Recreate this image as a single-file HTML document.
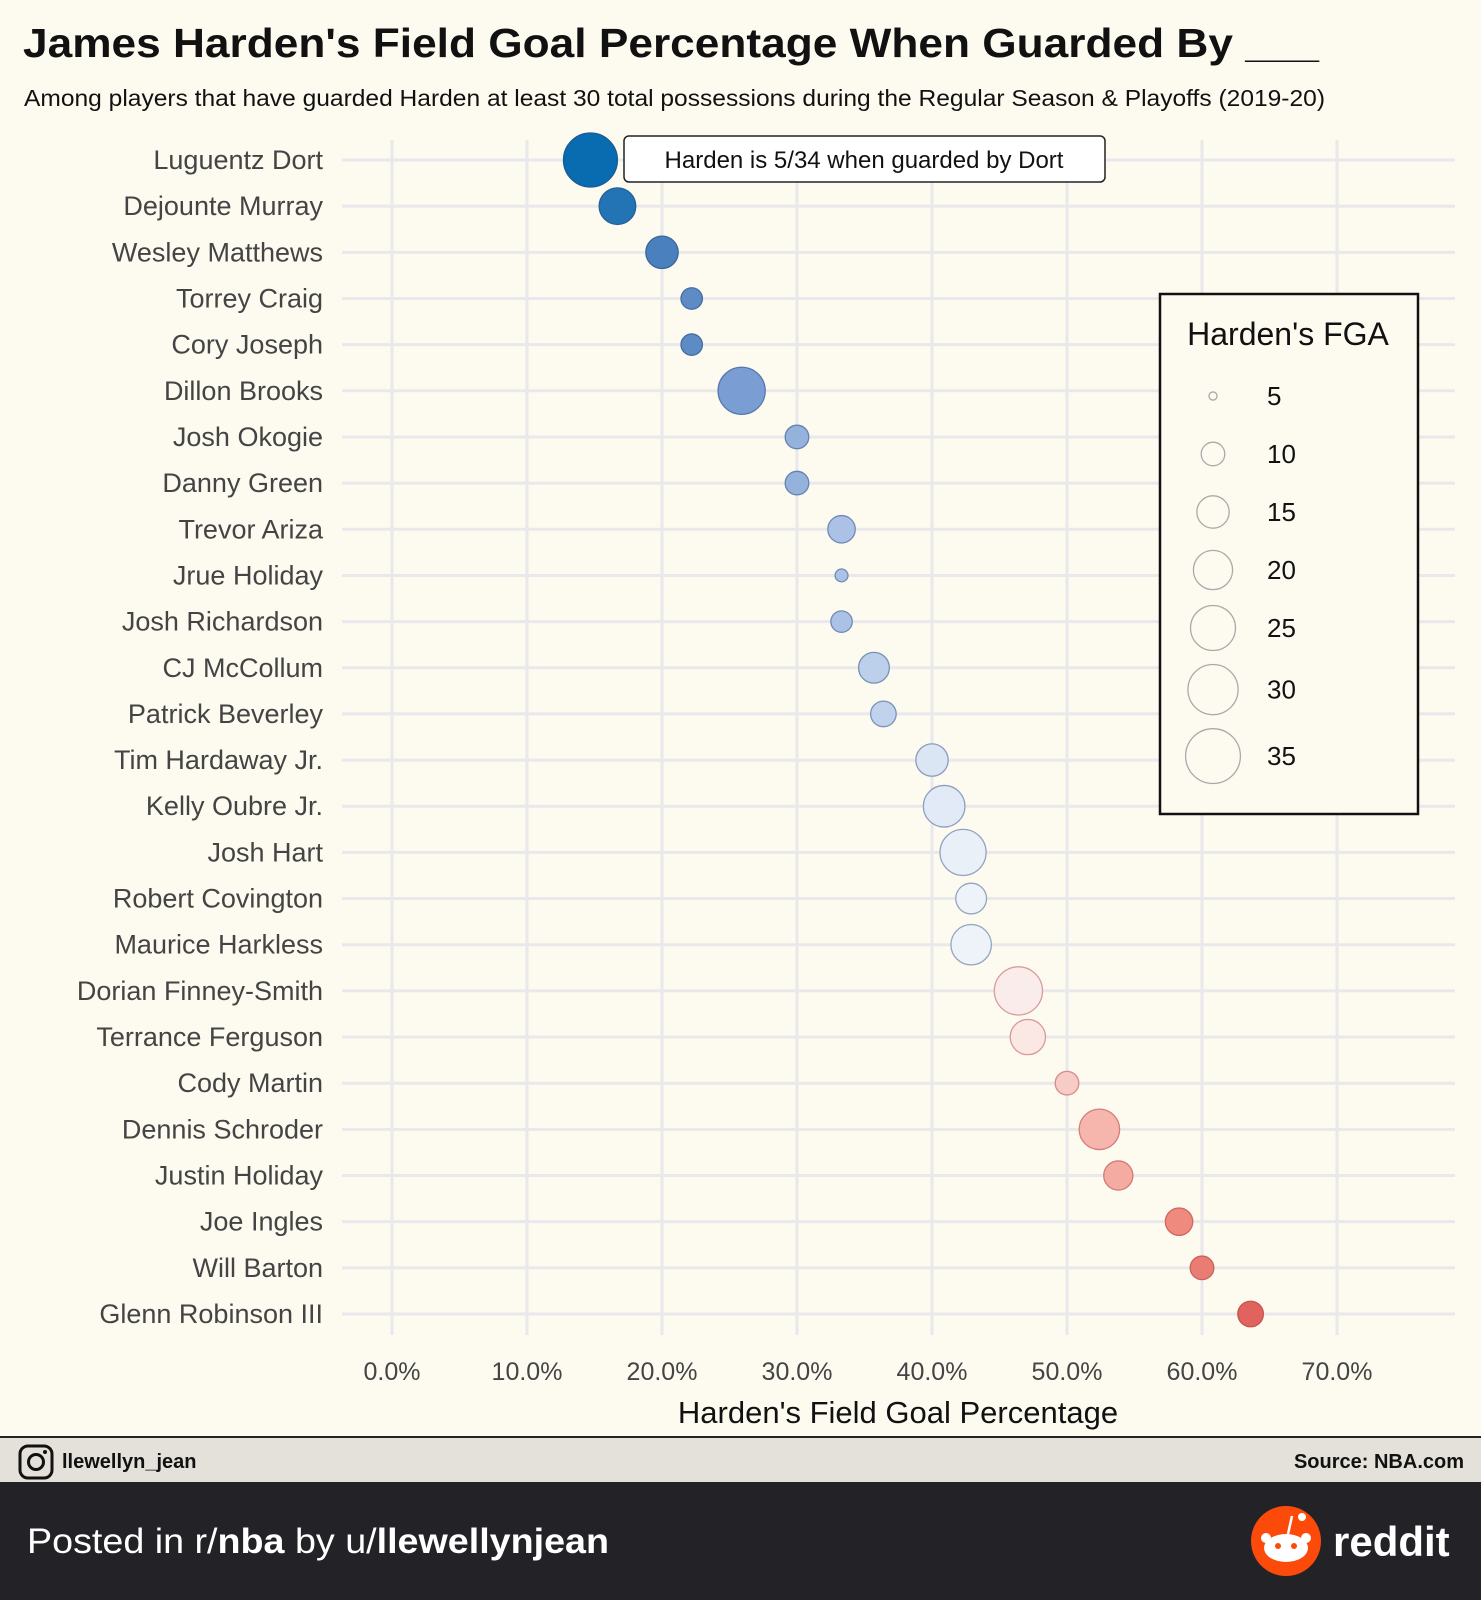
<!DOCTYPE html>
<html><head><meta charset="utf-8">
<style>
html,body{margin:0;padding:0;}
body{width:1481px;height:1600px;background:#fdfaf0;position:relative;overflow:hidden;font-family:"Liberation Sans",sans-serif;}
</style></head>
<body>
<svg width="1481" height="1600" viewBox="0 0 1481 1600" xmlns="http://www.w3.org/2000/svg" style="position:absolute;left:0;top:0">
<rect x="0" y="0" width="1481" height="1600" fill="#fdfaf0"/>
<text x="23" y="57" font-size="41" font-weight="bold" fill="#111" textLength="1296" lengthAdjust="spacingAndGlyphs">James Harden's Field Goal Percentage When Guarded By ___</text>
<text x="24" y="106" font-size="23" fill="#111" textLength="1301" lengthAdjust="spacingAndGlyphs">Among players that have guarded Harden at least 30 total possessions during the Regular Season &amp; Playoffs (2019-20)</text>
<g id="grid"></g>
<g id="ylabels"></g>
<g id="points"></g>
<g id="xticks"></g>
<text x="898" y="1423" font-size="31" text-anchor="middle" fill="#111">Harden's Field Goal Percentage</text>
<g>
<rect x="624" y="136" width="481" height="46" rx="5" fill="#fff" stroke="#222" stroke-width="1.5"/>
<text x="864" y="168" font-size="24" text-anchor="middle" fill="#111">Harden is 5/34 when guarded by Dort</text>
</g>
<g>
<rect x="1160" y="294" width="258" height="520" fill="#fdfaf0" stroke="#111" stroke-width="2.5"/>
<text x="1288" y="345" font-size="32" text-anchor="middle" fill="#111">Harden's FGA</text>
<g id="legend"></g>
</g>
<rect x="0" y="1437" width="1481" height="45" fill="#e4e1da"/>
<line x1="0" y1="1437" x2="1481" y2="1437" stroke="#222" stroke-width="2"/>
<g>
<rect x="20" y="1446" width="32" height="32" rx="8" fill="none" stroke="#111" stroke-width="3"/>
<circle cx="36" cy="1462" r="7.5" fill="none" stroke="#111" stroke-width="3"/>
<circle cx="45" cy="1452" r="2" fill="#111"/>
</g>
<text x="62" y="1468" font-size="20" font-weight="bold" fill="#111">llewellyn_jean</text>
<text x="1464" y="1468" font-size="20" font-weight="bold" fill="#111" text-anchor="end">Source: NBA.com</text>
<rect x="0" y="1482" width="1481" height="118" fill="#232327"/>
<text x="27" y="1553" font-size="35" fill="#fff" textLength="582" lengthAdjust="spacingAndGlyphs">Posted in r/<tspan font-weight="bold">nba</tspan> by u/<tspan font-weight="bold">llewellynjean</tspan></text>
<g>
<circle cx="1286" cy="1541" r="35" fill="#fc4a0b"/>
<ellipse cx="1286" cy="1548" rx="22" ry="14" fill="#fff"/>
<circle cx="1266" cy="1538" r="5" fill="#fff"/><circle cx="1306" cy="1538" r="5" fill="#fff"/>
<circle cx="1302" cy="1517" r="4" fill="#fff"/>
<line x1="1288" y1="1534" x2="1292" y2="1516" stroke="#fff" stroke-width="2.5"/>
<circle cx="1278" cy="1546" r="3" fill="#fc4a0b"/><circle cx="1294" cy="1546" r="3" fill="#fc4a0b"/>
<text x="1333" y="1556" font-size="42" font-weight="bold" fill="#fff">reddit</text>
</g>
</svg>
<script>
const players=["Luguentz Dort","Dejounte Murray","Wesley Matthews","Torrey Craig","Cory Joseph","Dillon Brooks","Josh Okogie","Danny Green","Trevor Ariza","Jrue Holiday","Josh Richardson","CJ McCollum","Patrick Beverley","Tim Hardaway Jr.","Kelly Oubre Jr.","Josh Hart","Robert Covington","Maurice Harkless","Dorian Finney-Smith","Terrance Ferguson","Cody Martin","Dennis Schroder","Justin Holiday","Joe Ingles","Will Barton","Glenn Robinson III"];
const fgPct=[14.7,16.7,20.0,22.2,22.2,25.9,30.0,30.0,33.3,33.3,33.3,35.7,36.4,40.0,40.9,42.3,42.9,42.9,46.4,47.1,50.0,52.4,53.8,58.3,60.0,63.6];
const fga=[34,18,15,9,9,27,10,10,12,6,9,14,11,15,22,26,14,21,28,17,10,21,13,12,10,11];
const xTicks=[0,10,20,30,40,50,60,70];
const legendSizes=[5,10,15,20,25,30,35];
const NS="http://www.w3.org/2000/svg";
const X0=392,XS=13.5,Y0=160,YS=46.16;
function xs(v){return X0+v*XS;}
function ys(i){return Y0+i*YS;}
function rs(n){return Math.sqrt(Math.max(2,24.5*n-106));}
const stops=[[14.7,[10,108,176]],[20,[74,128,189]],[26,[123,159,211]],[33,[169,192,229]],[40,[219,230,244]],[44,[245,247,251]],[47,[251,233,230]],[52,[246,184,176]],[58,[239,140,128]],[64,[224,96,90]]];
function col(v,dark){let c=stops[stops.length-1][1];
for(let i=0;i<stops.length-1;i++){if(v<=stops[i+1][0]){const t=Math.max(0,(v-stops[i][0])/(stops[i+1][0]-stops[i][0]));c=stops[i][1].map((a,k)=>a+(stops[i+1][1][k]-a)*t);break;}}
if(dark){const base=v<45?[40,70,120]:[170,60,60];c=c.map((a,k)=>a*0.55+base[k]*0.45);}
return "rgb("+c.map(Math.round).join(",")+")";}
function mk(tag,attrs,parent){const e=document.createElementNS(NS,tag);for(const k in attrs)e.setAttribute(k,attrs[k]);parent.appendChild(e);return e;}
const grid=document.getElementById('grid');
xTicks.forEach(t=>{const l=mk('line',{x1:xs(t),x2:xs(t),y1:140,y2:1335,stroke:'#e9e8ea','stroke-width':3},grid);

});
players.forEach((p,i)=>{const l=mk('line',{x1:342,x2:1455,y1:ys(i),y2:ys(i),stroke:'#e9e8ea','stroke-width':3},grid);

});
const yl=document.getElementById('ylabels');
players.forEach((p,i)=>{const t=mk('text',{x:323,y:ys(i)+9,'font-size':27,'text-anchor':'end',fill:'#444'},yl);t.textContent=p;

});
const pts=document.getElementById('points');
players.forEach((p,i)=>{const c=mk('circle',{cx:xs(fgPct[i]),cy:ys(i),r:rs(fga[i]),fill:col(fgPct[i],false),stroke:col(fgPct[i],true),'stroke-width':1.3},pts);

});
const xt=document.getElementById('xticks');
xTicks.forEach(t=>{const e=mk('text',{x:xs(t),y:1380,'font-size':25,'text-anchor':'middle',fill:'#444'},xt);e.textContent=t.toFixed(1)+"%";

});
const lg=document.getElementById('legend');
let ly=396;
legendSizes.forEach((n,i)=>{const r=rs(n);if(i>0)ly+=Math.max(58,r+rs(legendSizes[i-1])+14);
const c=mk('circle',{cx:1213,cy:ly,r:r,fill:'none',stroke:'#aaa','stroke-width':1.3},lg);


const t=mk('text',{x:1267,y:ly+9,'font-size':26,fill:'#111'},lg);t.textContent=n;

});
</script>
</body></html>
